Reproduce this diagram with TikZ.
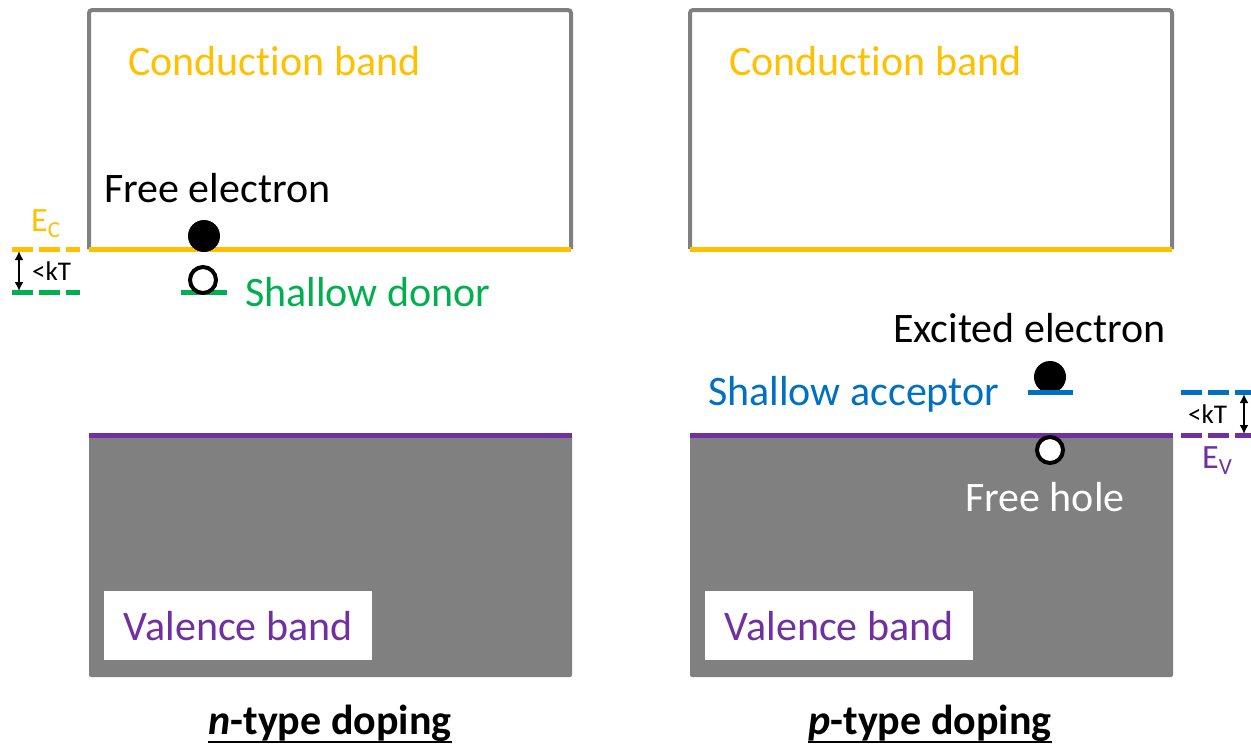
\documentclass[tikz,border=0pt]{standalone}
\usepackage{fontspec}
\setmainfont[RawFeature=-liga]{Carlito}
\usetikzlibrary{arrows.meta}
\definecolor{cyel}{HTML}{FFC000}
\definecolor{cgrn}{HTML}{00B050}
\definecolor{cblu}{HTML}{0070C0}
\definecolor{cpur}{HTML}{7030A0}
\definecolor{cgry}{HTML}{808080}
\begin{document}
\begin{tikzpicture}[x=1pt,y=-1pt,
 big/.style={font=\fontsize{42}{50}\selectfont, inner sep=0pt, anchor=base west},
 small/.style={font=\fontsize{27}{32}\selectfont, inner sep=0pt, anchor=base west},
 elabel/.style={font=\fontsize{34}{40}\selectfont, inner sep=0pt, anchor=base west},
 lvl/.style={line width=5pt},
 dlvl/.style={line width=5pt, dash pattern=on 21pt off 6pt},
 outline/.style={cgry, line width=4pt, rounded corners=3pt},
 vband/.style={fill=cgry, rounded corners=2pt},
 vlabel/.style={fill=white, text=cpur, font=\fontsize{42}{50}\selectfont, minimum width=268pt, minimum height=69pt, inner sep=0pt, anchor=north west},
 elec/.style={circle, fill=black, minimum size=32pt, inner sep=0pt},
 hole/.style={circle, draw=black, fill=white, line width=4pt, minimum size=26pt, inner sep=0pt},
 dbl/.style={{Latex[length=9pt,width=9pt]}-{Latex[length=9pt,width=9pt]}, line width=2.5pt},
 title/.style={font=\bfseries\fontsize{42}{50}\selectfont, inner sep=0pt, anchor=base},
]
\useasboundingbox (0,0) rectangle (1251,748);

% ---------- n-type ----------
\draw[outline] (89,249) -- (89,10) -- (571,10) -- (571,249);
\draw[cyel, lvl] (89,249) -- (571,249);
\fill[vband] (89,435) rectangle (572,677);
\draw[cpur, lvl] (89,435) -- (572,435);
\node[vlabel] (vbl) at (104,591) {Valence band};
\node[big, text=cyel] (cbl) at (128,75) {Conduction band};
\node[big] (fe) at (104,202) {Free electron};
\node[elec] (e1) at (204,236) {};
\draw[cgrn, lvl] (181,292) -- (227,292);
\node[hole] (d1) at (203,280) {};
\node[big, text=cgrn] (sd) at (245,306) {Shallow donor};
\draw[cyel, dlvl] (12,249) -- (80,249);
\draw[cgrn, dlvl] (12,292) -- (80,292);
\node[elabel, text=cyel] (ec) at (31,231) {E\raisebox{-6pt}{\fontsize{23}{23}\selectfont C}};
\coordinate (a1t) at (19,251);
\coordinate (a1b) at (19,291);
\draw[dbl] (a1t) -- (a1b);
\node[small] (kt1) at (32,280) {<kT};
\node[title] (nt) at (330,734) {\textit{n}-type doping};
\draw[line width=2.5pt] ([yshift=-8pt]nt.base west) -- ([yshift=-8pt]nt.base east);

% ---------- p-type ----------
\draw[outline] (690,249) -- (690,10) -- (1172,10) -- (1172,249);
\draw[cyel, lvl] (690,249) -- (1172,249);
\fill[vband] (690,435) rectangle (1173,677);
\draw[cpur, lvl] (690,435) -- (1173,435);
\node[vlabel] (vbr) at (705,591) {Valence band};
\node[big, text=cyel] (cbr) at (729,75) {Conduction band};
\node[big] (ee) at (893,342) {Excited electron};
\node[elec] (e2) at (1050,377) {};
\draw[cblu, lvl] (1028,392) -- (1073,392);
\node[hole] (h2) at (1050,450) {};
\node[big, text=cblu] (sa) at (708,405) {Shallow acceptor};
\node[big, text=white] (fh) at (965,511) {Free hole};
\draw[cblu, dlvl] (1181,392) -- (1251,392);
\draw[cpur, dlvl] (1181,435) -- (1251,435);
\coordinate (a2t) at (1244,394);
\coordinate (a2b) at (1244,434);
\draw[dbl] (a2t) -- (a2b);
\node[small] (kt2) at (1188,423) {<kT};
\node[elabel, text=cpur] (ev) at (1202,468) {E\raisebox{-6pt}{\fontsize{23}{23}\selectfont V}};
\node[title] (pt) at (930,734) {\textit{p}-type doping};
\draw[line width=2.5pt] ([yshift=-8pt]pt.base west) -- ([yshift=-8pt]pt.base east);
\end{tikzpicture}
\end{document}
